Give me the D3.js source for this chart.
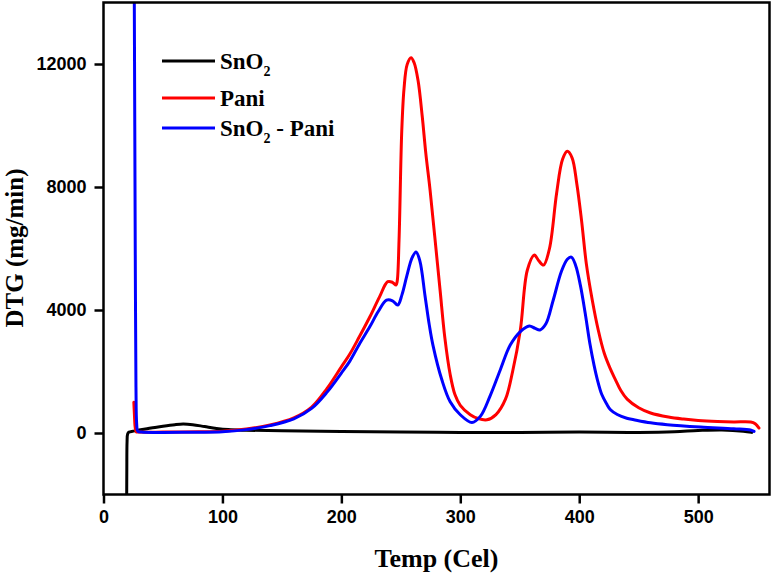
<!DOCTYPE html>
<html>
<head>
<meta charset="utf-8">
<script src="https://cdn.jsdelivr.net/npm/d3@7"></script>
<style>
  html, body { margin: 0; padding: 0; background: #fff; }
  svg { display: block; }
</style>
</head>
<body>
<svg id="chart" width="774" height="576"></svg>
<script>
// ---- data ----
const xTicks = [0, 100, 200, 300, 400, 500];
const yTicks = [0, 4000, 8000, 12000];
const seriesNames = ["SnO2", "Pani", "SnO2 - Pani"];
const seriesColors = ["#000000", "#ff0000", "#0000ff"];

const sno2 = [
  [19.5, -2100], [19.6, -1200], [19.8, -300], [20.3, -30], [21.5, 30], [25, 60], [30, 100],
  [40, 160], [50, 220], [60, 270], [67, 290], [75, 270], [85, 210], [95, 150],
  [105, 110], [120, 90], [150, 70], [200, 50], [250, 30], [300, 20], [350, 20],
  [400, 30], [450, 20], [480, 40], [500, 80], [520, 100], [538, 60], [545, 20]
];

const pani = [
  [25.5, 1000], [26.0, 600], [26.6, 200], [27.5, 40], [30, 30], [50, 30], [80, 40],
  [100, 60], [120, 130], [140, 260], [160, 490], [175, 840], [188, 1450], [200, 2150],
  [207, 2560], [215, 3120], [224, 3780], [232, 4420], [239, 4920], [243, 4900],
  [246, 4810], [247, 4950], [248.5, 6270], [250.8, 9840], [252.7, 11200],
  [255.3, 11980], [258.6, 12205], [261.2, 12040], [264.5, 11460], [268, 10300],
  [271, 9100], [274.6, 7900], [278.5, 6400], [283, 4650], [287, 3100], [291.5, 1900],
  [295.5, 1250], [300, 900], [308.4, 594], [315, 470], [322.4, 431], [330, 600],
  [338, 1100], [344, 2000], [350.5, 3350], [356.4, 5300], [362.3, 5785], [366, 5600],
  [370, 5460], [375, 6000], [381, 7800], [386, 8900], [390, 9160], [394, 8950],
  [398, 8100], [402, 6900], [406, 5500], [411, 4320], [416, 3350], [421, 2600],
  [426, 2100], [430.5, 1730], [435, 1380], [440.3, 1100], [450, 820], [460, 650],
  [475, 520], [487.8, 454], [500, 410], [516.2, 376], [530, 360], [544.2, 357],
  [548, 300], [551.2, 162]
];

const sno2Pani = [
  [25.8, 15000], [26.3, 10000], [26.8, 5000], [27.3, 1500], [27.9, 300], [28.8, 60],
  [32, 30], [50, 20], [80, 25], [100, 40], [120, 110], [140, 240], [160, 460],
  [175, 800], [188, 1330], [200, 1950], [207, 2330], [215, 2880], [224, 3460],
  [231, 3950], [238, 4320], [243, 4300], [247.4, 4160], [251, 4500], [255, 5100],
  [259.5, 5700], [262.8, 5890], [266, 5600], [270.4, 4450], [274, 3500], [277, 2860],
  [284.5, 1730], [291.5, 1015], [300, 594], [309.8, 344], [317, 550], [325, 1200],
  [333.6, 2050], [342, 2860], [350.5, 3300], [358, 3480], [363, 3400], [367, 3350],
  [372, 3550], [378, 4300], [385, 5250], [390, 5650], [393.4, 5720], [397, 5450],
  [401, 4800], [405, 3900], [409, 2900], [412.5, 2200], [415.3, 1730], [419, 1250],
  [423, 950], [426.3, 756], [432, 600], [440, 480], [446, 431], [460, 330],
  [474, 270], [502, 195], [530, 140], [544, 100], [547, 52]
];

const allSeries = [sno2, pani, sno2Pani];

// ---- layout ----
const svg = d3.select("#chart");
const L = 103.5, R = 769.5, T = 2.5, B = 494.5;

const x = d3.scaleLinear().domain([0, 560]).range([L, R]);
const y = d3.scaleLinear().domain([-2000, 14000]).range([B, T]);

svg.append("defs").append("clipPath").attr("id", "clip")
  .append("rect").attr("x", L).attr("y", T).attr("width", R - L).attr("height", B - T);

const line = d3.line().x(d => x(d[0])).y(d => y(d[1])).curve(d3.curveCatmullRom.alpha(0.5));

const g = svg.append("g").attr("clip-path", "url(#clip)");
allSeries.forEach((s, i) => {
  g.append("path").datum(s)
    .attr("d", line)
    .attr("fill", "none")
    .attr("stroke", seriesColors[i])
    .attr("stroke-width", 3)
    .attr("stroke-linejoin", "round")
    .attr("stroke-linecap", "round");
});

// ---- frame ----
svg.append("rect").attr("x", L).attr("y", T).attr("width", R - L).attr("height", B - T)
  .attr("fill", "none").attr("stroke", "#000").attr("stroke-width", 2.5);

// ---- axes ----
const tickFont = "'Liberation Sans', Arial, sans-serif";
const xAxis = svg.append("g").attr("transform", `translate(0,${B})`)
  .call(d3.axisBottom(x).tickValues(xTicks).tickSize(9).tickPadding(7).tickFormat(d3.format("d")));
const yAxis = svg.append("g").attr("transform", `translate(${L},0)`)
  .call(d3.axisLeft(y).tickValues(yTicks).tickSize(9).tickPadding(8).tickFormat(d3.format("d")));

[xAxis, yAxis].forEach(a => {
  a.select(".domain").remove();
  a.selectAll(".tick line").attr("stroke", "#000").attr("stroke-width", 2.5);
  a.selectAll(".tick text")
    .attr("fill", "#000")
    .style("font-family", tickFont)
    .style("font-weight", "bold")
    .style("font-size", "18px");
});

// ---- axis titles ----
const titleFont = "'Liberation Serif', 'Times New Roman', serif";
svg.append("text")
  .attr("x", (L + R) / 2).attr("y", 567)
  .attr("text-anchor", "middle")
  .style("font-family", titleFont).style("font-weight", "bold").style("font-size", "26px")
  .text("Temp (Cel)");

svg.append("text")
  .attr("transform", `translate(23,${248}) rotate(-90)`)
  .attr("text-anchor", "middle")
  .style("font-family", titleFont).style("font-weight", "bold").style("font-size", "25px")
  .text("DTG (mg/min)");

// ---- legend ----
const legendY = [61, 98, 128];
const legend = svg.append("g");
seriesNames.forEach((name, i) => {
  legend.append("line")
    .attr("x1", 162).attr("x2", 215)
    .attr("y1", legendY[i]).attr("y2", legendY[i])
    .attr("stroke", seriesColors[i]).attr("stroke-width", 3);
  const t = legend.append("text")
    .attr("x", 220).attr("y", legendY[i] + 8)
    .style("font-family", titleFont).style("font-weight", "bold").style("font-size", "23px")
    .attr("fill", "#000");
  if (name.startsWith("SnO2")) {
    t.append("tspan").text("SnO");
    t.append("tspan").attr("dy", 7).style("font-size", "14px").text("2");
    const rest = name.slice(4);
    if (rest.length) t.append("tspan").attr("dy", -7).text(rest);
  } else {
    t.text(name);
  }
});
</script>
</body>
</html>
